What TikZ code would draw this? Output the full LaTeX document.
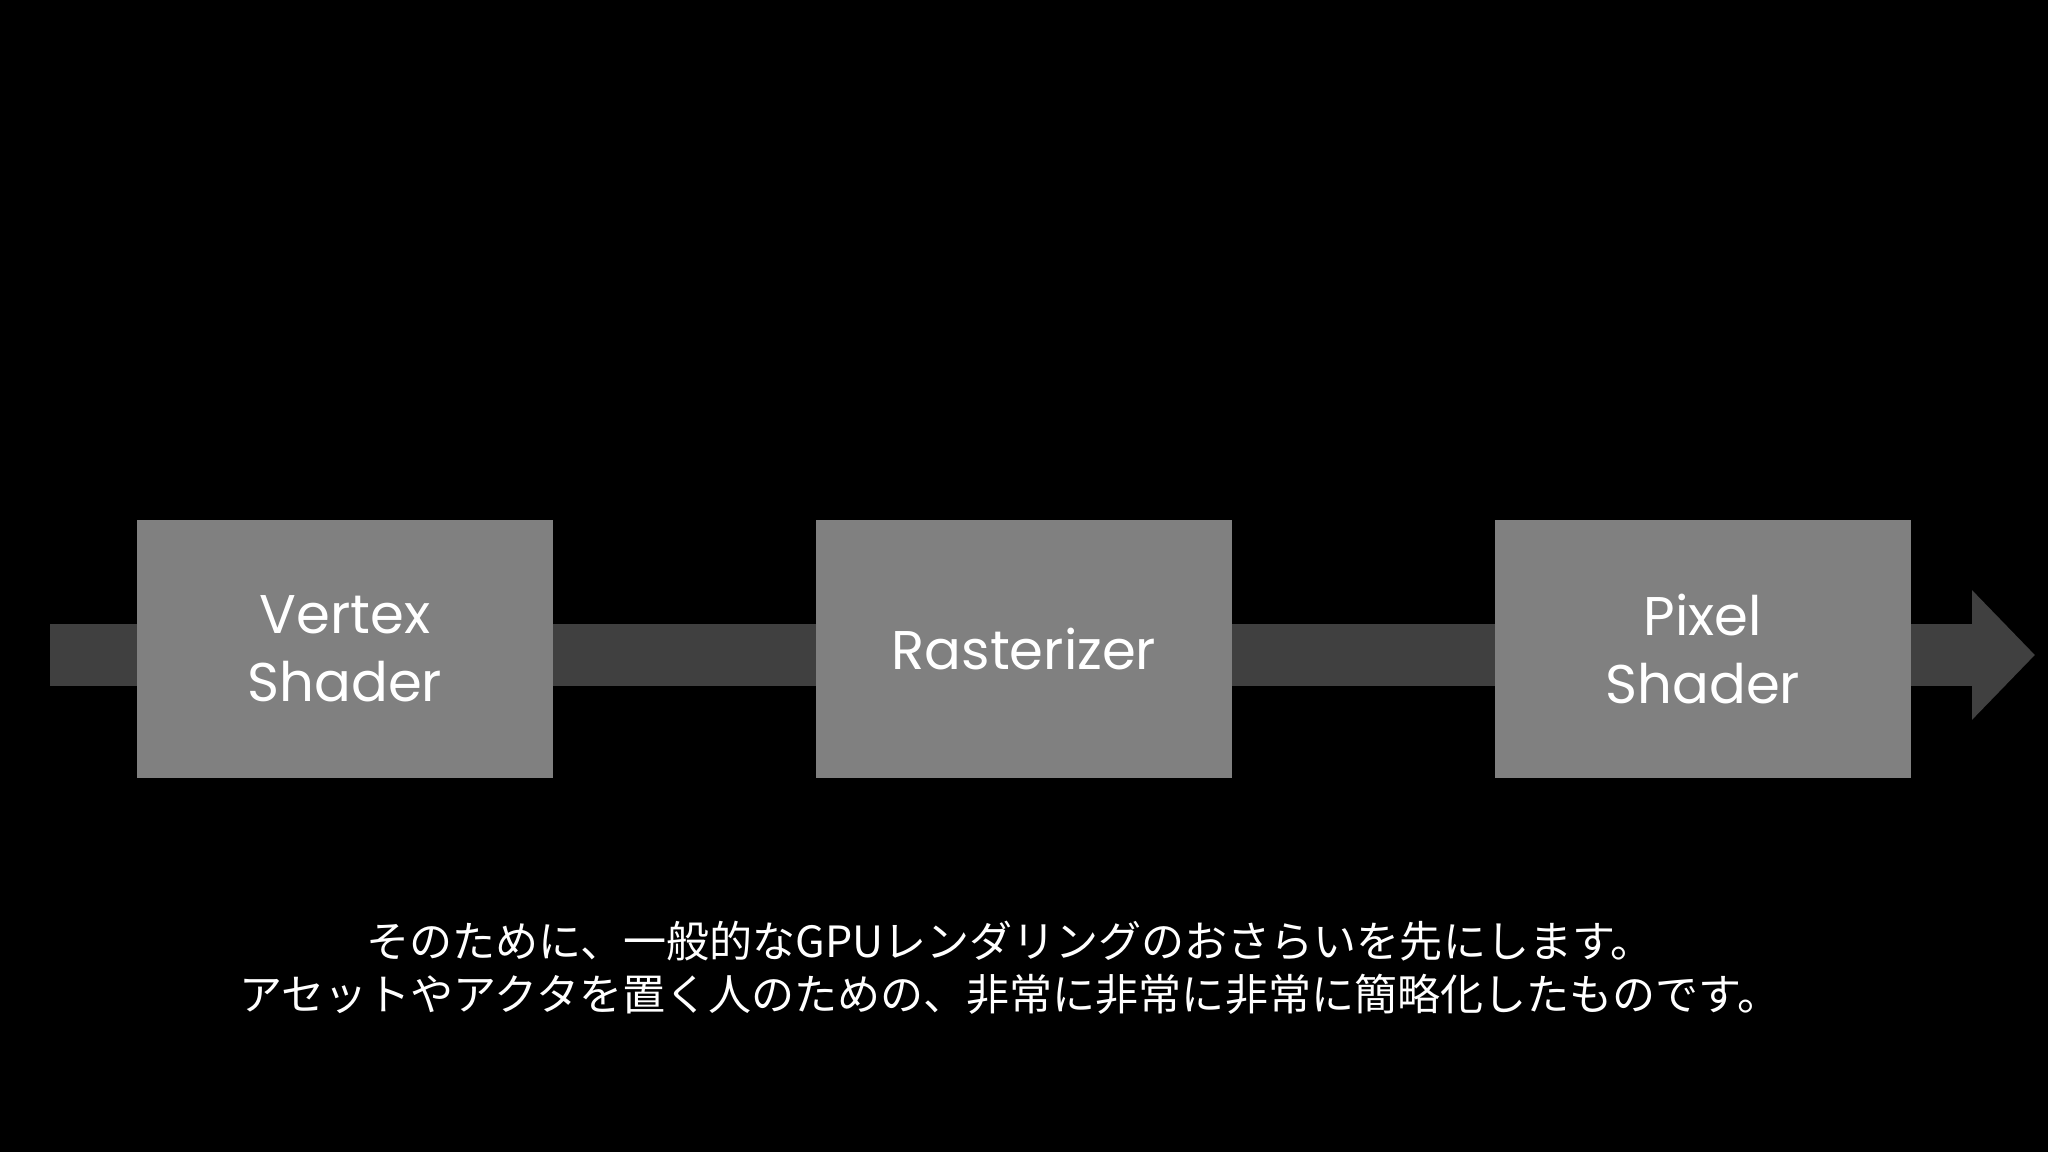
\documentclass[tikz,border=0pt]{standalone}
\usepackage{fontspec}
\setmainfont{Poppins}
\newfontfamily\jpfont{Noto Sans CJK JP}
\usetikzlibrary{arrows.meta}
\definecolor{stagegray}{HTML}{808080}
\definecolor{flowgray}{HTML}{404040}
\tikzset{
  stagebox/.style={fill=stagegray, text=white, minimum width=4.16cm, minimum height=2.58cm,
    inner sep=0pt, align=center, font=\fontsize{15.5}{19.3}\selectfont},
  flow/.style={flowgray, line width=6.2mm, -{Triangle[length=6.3mm,width=12.6mm]}},
  caption/.style={text=white, align=center, font=\jpfont\fontsize{12.25}{15.2}\selectfont}
}
\begin{document}
\begin{tikzpicture}
\fill[black] (0,0) rectangle (20.48,11.52);
\useasboundingbox (0,0) rectangle (20.48,11.52);

% pipeline arrow behind the stages
\coordinate (in) at (0.5,4.97);
\coordinate (out) at (20.35,4.97);
\draw[flow] (in) -- (out);

\node[stagebox] (vs) at (3.45,5.03) {Vertex\\Shader};
\node[stagebox] (rast) at (10.24,5.03) {Rasterizer};
\node[stagebox] (ps) at (17.03,5.03) {Pixel\\Shader};

\node[caption] (note) at (10.1,1.84) {そのために、一般的なGPUレンダリングのおさらいを先にします。\\アセットやアクタを置く人のための、非常に非常に非常に簡略化したものです。};
\end{tikzpicture}
\end{document}
